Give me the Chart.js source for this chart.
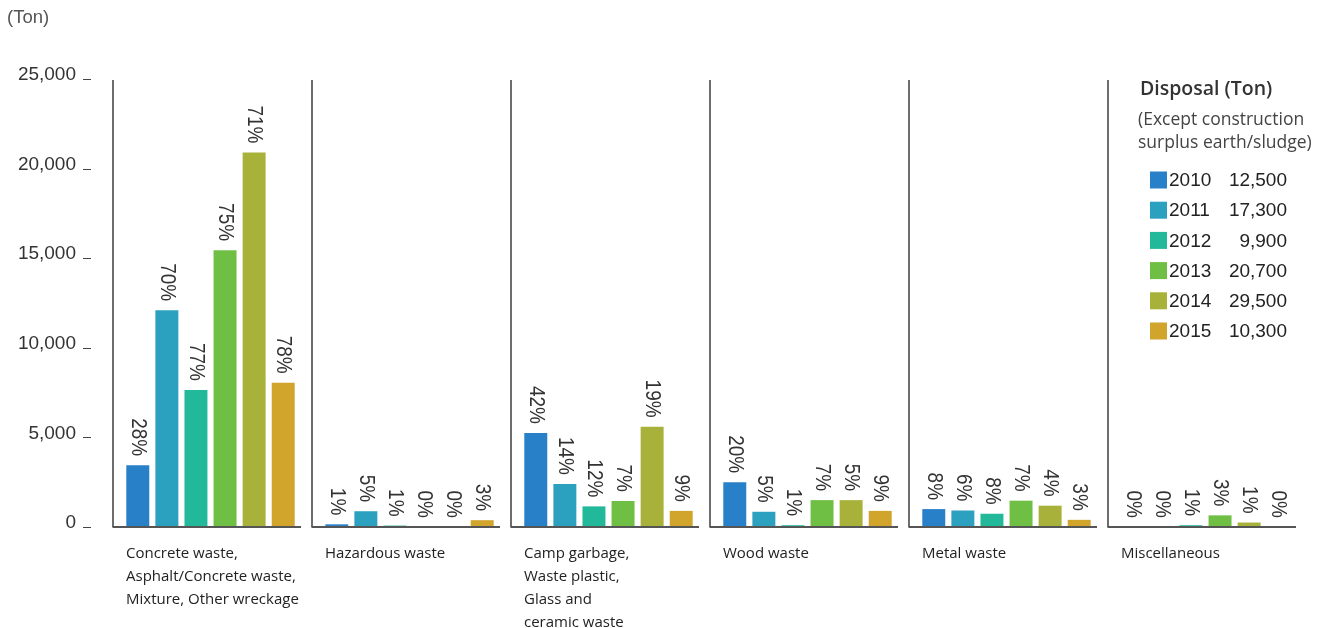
<!DOCTYPE html>
<html>
<head>
<meta charset="utf-8">
<title>Disposal by waste type</title>
<script src="https://cdn.jsdelivr.net/npm/chart.js@4.4.1/dist/chart.umd.min.js"></script>
<style>
    html, body { margin: 0; padding: 0; background: #fff; }
    #wrap { width: 1333px; height: 628px; }
</style>
</head>
<body>
<div id="wrap"><canvas id="disposalChart" width="1333" height="628"></canvas></div>
<script>
// waste categories (one line per array entry)
const categories = [
    ["Concrete waste,", "Asphalt/Concrete waste,", "Mixture, Other wreckage"],
    ["Hazardous waste"],
    ["Camp garbage,", "Waste plastic,", "Glass and", "ceramic waste"],
    ["Wood waste"],
    ["Metal waste"],
    ["Miscellaneous"]
];

const years = ["2010", "2011", "2012", "2013", "2014", "2015"];
const yearTotals = ["12,500", "17,300", "9,900", "20,700", "29,500", "10,300"];
const yearColors = ["#2880c8", "#2ba0bf", "#22b99b", "#70bf45", "#a8b23a", "#d1a42c"];

// tons per category, one array per year
const tons2010 = [3450, 150, 5250, 2500, 1000, 0];
const tons2011 = [12100, 880, 2400, 850, 920, 0];
const tons2012 = [7650, 80, 1150, 100, 740, 100];
const tons2013 = [15450, 0, 1450, 1500, 1470, 650];
const tons2014 = [20900, 0, 5600, 1500, 1190, 250];
const tons2015 = [8050, 380, 900, 900, 400, 0];

// share of the year's total, in %
const pct2010 = [28, 1, 42, 20, 8, 0];
const pct2011 = [70, 5, 14, 5, 6, 0];
const pct2012 = [77, 1, 12, 1, 8, 1];
const pct2013 = [75, 0, 7, 7, 7, 3];
const pct2014 = [71, 0, 19, 5, 4, 1];
const pct2015 = [78, 3, 9, 9, 3, 0];

const yTicks = [0, 5000, 10000, 15000, 20000, 25000];

const tonsByYear = [tons2010, tons2011, tons2012, tons2013, tons2014, tons2015];
const pctByYear = [pct2010, pct2011, pct2012, pct2013, pct2014, pct2015];

const numFont = "'Liberation Sans', Arial, sans-serif";
const textFont = "'Open Sans', 'Noto Sans', sans-serif";


// group frames, rotated % labels, category names and the side legend
const wasteDecor = {
    id: "wasteDecor",
    afterDatasetsDraw(chart) {
        const ctx = chart.ctx;
        const xs = chart.scales.x;
        const ys = chart.scales.y;
        const half = (xs.right - xs.left) / categories.length / 2;
        const base = ys.getPixelForValue(0);
        const top = ys.getPixelForValue(25000);

        ctx.save();

        // vertical separator + baseline per group
        categories.forEach((lines, i) => {
            const left = xs.getPixelForValue(i) - half + 2;
            ctx.strokeStyle = "#3c3c3c";
            ctx.lineWidth = 1.5;
            ctx.beginPath();
            ctx.moveTo(left, top + 1);
            ctx.lineTo(left, base);
            ctx.stroke();

            ctx.strokeStyle = "#555";
            ctx.lineWidth = 2;
            ctx.beginPath();
            ctx.moveTo(left - 0.5, base);
            ctx.lineTo(left + 188, base);
            ctx.stroke();

            ctx.fillStyle = "#222";
            ctx.font = "15px " + textFont;
            ctx.textAlign = "left";
            ctx.textBaseline = "middle";
            lines.forEach((txt, k) => {
                ctx.fillText(txt, left + 13, base + 27 + k * 23);
            });
        });

        // % labels, turned to read top to bottom (glyphs a little taller)
        ctx.fillStyle = "#333";
        ctx.font = "19px " + numFont;
        chart.data.datasets.forEach((ds, d) => {
            const meta = chart.getDatasetMeta(d);
            meta.data.forEach((bar, i) => {
                ctx.save();
                ctx.translate(bar.x, bar.y - 9);
                ctx.rotate(Math.PI / 2);
                ctx.scale(1, 1.15);
                ctx.textAlign = "right";
                ctx.textBaseline = "middle";
                ctx.fillText(pctByYear[d][i] + "%", 0, 0);
                ctx.restore();
            });
        });

        // short dashes next to the y labels
        ctx.strokeStyle = "#444";
        ctx.lineWidth = 1;
        yTicks.forEach(v => {
            const y = Math.round(ys.getPixelForValue(v)) + 0.5;
            ctx.beginPath();
            ctx.moveTo(83, y);
            ctx.lineTo(91, y);
            ctx.stroke();
        });

        // unit
        ctx.fillStyle = "#555";
        ctx.font = "18.5px " + numFont;
        ctx.textAlign = "left";
        ctx.textBaseline = "middle";
        ctx.fillText("(Ton)", 7, 18);

        // legend block
        ctx.fillStyle = "#333";
        ctx.font = "600 19.5px " + textFont;
        ctx.fillText("Disposal (Ton)", 1140, 89);
        ctx.fillStyle = "#444";
        ctx.font = "17.5px " + textFont;
        ctx.fillText("(Except construction", 1138, 120);
        ctx.fillText("surplus earth/sludge)", 1138, 143);

        ctx.font = "19px " + numFont;
        years.forEach((yr, i) => {
            const cy = 180 + i * 30.2;
            ctx.fillStyle = yearColors[i];
            ctx.fillRect(1150, cy - 8.5, 17, 17);
            ctx.fillStyle = "#222";
            ctx.textAlign = "left";
            ctx.fillText(yr, 1169, cy + 1);
            ctx.textAlign = "right";
            ctx.fillText(yearTotals[i], 1287, cy + 1);
        });

        ctx.restore();
    }
};


function buildDatasets() {
    return years.map((yr, i) => ({
        label: yr,
        data: tonsByYear[i],
        backgroundColor: yearColors[i],
        borderWidth: 0,
        categoryPercentage: 0.877,
        barPercentage: 0.79
    }));
}


const ctxWaste = document.getElementById("disposalChart").getContext("2d");
new Chart(ctxWaste, {
    type: "bar",
    data: {
        labels: categories.map(c => c.join(" ")),
        datasets: buildDatasets()
    },
    options: {
        responsive: false,
        animation: false,
        devicePixelRatio: 1,
        layout: { padding: { top: 79, right: 28, bottom: 0, left: 0 } },
        plugins: {
            legend: { display: false },
            tooltip: { enabled: false }
        },
        scales: {
            x: {
                grid: { display: false },
                border: { display: false },
                ticks: { display: false },
                afterFit: s => { s.height = 101; }
            },
            y: {
                min: 0,
                max: 25000,
                afterBuildTicks: s => { s.ticks = yTicks.map(v => ({ value: v })); },
                grid: { display: false, drawTicks: false },
                border: { display: false },
                ticks: {
                    padding: 35,
                    labelOffset: -4,
                    color: "#333",
                    font: { family: numFont, size: 19 },
                    callback: v => v.toLocaleString("en-US")
                },
                afterFit: s => { s.width = 111; }
            }
        }
    },
    plugins: [wasteDecor]
});
</script>
</body>
</html>
